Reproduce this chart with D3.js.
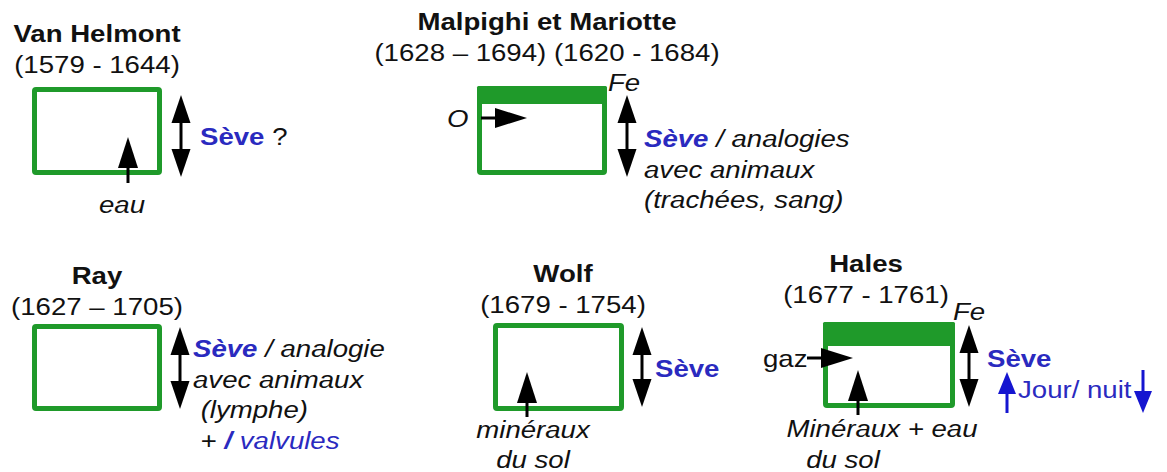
<!DOCTYPE html>
<html>
<head>
<meta charset="utf-8">
<script src="https://cdn.jsdelivr.net/npm/d3@7/dist/d3.min.js"></script>
<style>
  body { margin: 0; background: #fff; }
  text { font-family: "Liberation Sans", Arial, sans-serif; font-size: 24px; fill: #111; }
</style>
</head>
<body>
<div id="chart"></div>
<script>
var width = 1167,
    height = 472;

var sx = 1.15; // the picture is a bit stretched sideways
var green = "#1f9a2a",
    blue = "#2a2abf",
    arrowBlue = "#1515d0";

// scientists, dates
var names = ["Van Helmont", "Malpighi et Mariotte", "Ray", "Wolf", "Hales"];
var dates = ["(1579 - 1644)", "(1628 \u2013 1694) (1620 - 1684)", "(1627 \u2013 1705)", "(1679 - 1754)", "(1677 - 1761)"];

// labels beside the sap arrow, as lines of [text, style]
var sapLabels = [
  [[["Sève", "b blue"], [" ?", ""]]],
  [[["Sève", "b i blue"], [" / analogies", "i"]], [["avec animaux", "i"]], [["(trachées, sang)", "i"]]],
  [[["Sève", "b i blue"], [" / analogie", "i"]], [["avec animaux", "i"]], [[" (lymphe)", "i"]], [[" + ", ""], ["/", "b i blue"], [" valvules", "i blue"]]],
  [[["Sève", "b blue"]]],
  [[["Sève", "b blue"]]]
];

// labels under the box (input from the soil)
var soilLabels = [["eau"], [], [], ["minéraux", "du sol"], ["Minéraux + eau", "du sol"]];
// side input
var sideLabels = ["", "O", "", "", "gaz"];
var feLabels = [false, true, false, false, true];

// layout of each panel
var layout = [
  {cx: 97,  ty: 42,  box: [32, 87, 162, 175],  band: 0,  dbl: [181, 95, 177],  sap: [200, 145], soil: [128, 183, 137], soilText: [[122, 213]]},
  {cx: 547, ty: 30,  box: [477, 86, 607, 175], band: 18, dbl: [627, 95, 177],  sap: [644, 147], side: [447, 127, 481, 527, 118], fe: [608, 91]},
  {cx: 97,  ty: 284, box: [32, 324, 162, 411], band: 0,  dbl: [180, 327, 409], sap: [193, 357]},
  {cx: 563, ty: 282, box: [493, 323, 624, 411], band: 0, dbl: [642, 327, 407], sap: [655, 377], soil: [527, 417, 372], soilText: [[533, 438], [533, 468]]},
  {cx: 866, ty: 272, box: [823, 322, 955, 408], band: 24, dbl: [969, 325, 407], sap: [987, 367], soil: [858, 415, 370], soilText: [[882, 437], [843, 468]], side: [763, 367, 807, 853, 358], fe: [953, 320]}
];

var svg = d3.select("#chart")
  .append("svg")
  .attr("width", width)
  .attr("height", height);

function addText(g, x, y, anchor, segs) {
  var t = g.append("text")
    .attr("transform", "translate(" + x + "," + y + ") scale(" + sx + ",1)")
    .attr("text-anchor", anchor)
    .attr("xml:space", "preserve");
  segs.forEach(function(s) {
    var st = (s[1] || "").split(" ");
    t.append("tspan")
      .text(s[0])
      .attr("font-weight", st.indexOf("b") >= 0 ? "bold" : null)
      .attr("font-style", st.indexOf("i") >= 0 ? "italic" : null)
      .style("fill", st.indexOf("blue") >= 0 ? blue : null);
  });
  return t;
}

// arrow from (x1,y1) to tip (x2,y2)
function arrow(g, x1, y1, x2, y2, headLen, headW, color, shaftW) {
  var dx = x2 - x1, dy = y2 - y1;
  var len = Math.sqrt(dx*dx + dy*dy);
  var ux = dx/len, uy = dy/len;
  var bx = x2 - ux*headLen, by = y2 - uy*headLen;
  g.append("line")
    .attr("x1", x1).attr("y1", y1)
    .attr("x2", bx).attr("y2", by)
    .attr("stroke", color)
    .attr("stroke-width", shaftW);
  g.append("path")
    .attr("d", d3.line()([[x2, y2], [bx - uy*headW/2, by + ux*headW/2], [bx + uy*headW/2, by - ux*headW/2]]) + "Z")
    .attr("fill", color);
}

function doubleArrow(g, x, y1, y2) {
  var mid = (y1 + y2) / 2;
  arrow(g, x, mid, x, y1, 28, 19, "#000", 3);
  arrow(g, x, mid, x, y2, 28, 19, "#000", 3);
}

layout.forEach(function(L, i) {
  var g = svg.append("g").attr("class", "panel");

  addText(g, L.cx, L.ty, "middle", [[names[i], "b"]]);
  addText(g, L.cx, L.ty + 31, "middle", [[dates[i], ""]]);

  var b = L.box, sw = 5;
  g.append("rect")
    .attr("x", b[0] + sw/2).attr("y", b[1] + sw/2)
    .attr("width", b[2] - b[0] - sw).attr("height", b[3] - b[1] - sw)
    .attr("fill", "#fff")
    .attr("stroke", green)
    .attr("stroke-width", sw)
    .attr("rx", 1.5);
  if (L.band) {
    g.append("rect")
      .attr("x", b[0]).attr("y", b[1])
      .attr("width", b[2] - b[0]).attr("height", L.band)
      .attr("fill", green)
      .attr("rx", 1.5);
  }

  doubleArrow(g, L.dbl[0], L.dbl[1], L.dbl[2]);

  sapLabels[i].forEach(function(line, j) {
    addText(g, L.sap[0], L.sap[1] + j*30.5, "start", line);
  });

  if (L.soil) {
    arrow(g, L.soil[0], L.soil[1], L.soil[0], L.soil[2], 31, 20, "#000", 3);
    soilLabels[i].forEach(function(s, j) {
      addText(g, L.soilText[j][0], L.soilText[j][1], "middle", [[s, "i"]]);
    });
  }

  if (L.side) {
    addText(g, L.side[0], L.side[1], "start", [[sideLabels[i], i === 1 ? "i" : ""]]);
    arrow(g, L.side[2], L.side[4], L.side[3], L.side[4], 32, 20, "#000", 3);
  }

  if (feLabels[i]) {
    addText(g, L.fe[0], L.fe[1], "start", [["Fe", "i"]]);
  }
});

// day / night under Hales
var jn = svg.append("g");
arrow(jn, 1007, 413, 1007, 372, 22, 18, arrowBlue, 3);
addText(jn, 1018, 398, "start", [["Jour/ nuit", "blue"]]);
arrow(jn, 1143, 370, 1143, 413, 22, 18, arrowBlue, 3);
</script>
</body>
</html>
